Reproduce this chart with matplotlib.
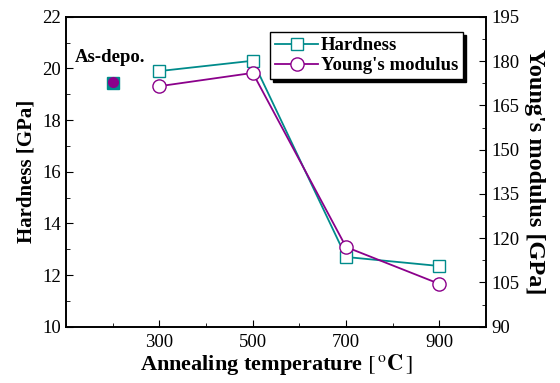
import matplotlib.pyplot as plt
import numpy as np
from matplotlib.ticker import MultipleLocator

plt.rcParams['font.family'] = 'Liberation Serif'
plt.rcParams['mathtext.fontset'] = 'stix'

# data
temp = [300, 500, 700, 900]
hardness = [19.9, 20.3, 12.7, 12.35]
modulus = [171.5, 176.0, 117.0, 104.5]
asdepo_temp = 200
asdepo_hard = 19.45
asdepo_mod = 173.0

teal = '#008b8b'
purple = '#8b008b'

fig = plt.figure(figsize=(5.6, 3.83), dpi=100)
ax = fig.add_axes([0.118, 0.147, 0.750, 0.809])
ax2 = ax.twinx()

l1, = ax.plot(temp, hardness, color=teal, marker='s', markersize=8,
              markerfacecolor='white', markeredgewidth=1.0, linewidth=1.3,
              label='Hardness')
ax.plot([asdepo_temp], [asdepo_hard], 's', color=teal, markersize=8)
l2, = ax2.plot(temp, modulus, color=purple, marker='o', markersize=9.5,
               markerfacecolor='white', markeredgewidth=1.0, linewidth=1.3,
               label="Young's modulus")
ax2.plot([asdepo_temp], [asdepo_mod], 'o', color=purple, markersize=7)

ax.set_xlim(100, 1000)
ax.set_ylim(10, 22)
ax2.set_ylim(90, 195)

ax.set_xticks([300, 500, 700, 900])
ax.xaxis.set_minor_locator(MultipleLocator(100))
ax.yaxis.set_major_locator(MultipleLocator(2))
ax.yaxis.set_minor_locator(MultipleLocator(1))
ax2.yaxis.set_major_locator(MultipleLocator(15))
ax2.yaxis.set_minor_locator(MultipleLocator(7.5))

for a in (ax, ax2):
    a.tick_params(which='both', direction='in', labelsize=13.5)
    a.tick_params(which='major', length=5)
    a.tick_params(which='minor', length=3)
    for s in a.spines.values():
        s.set_linewidth(1.2)
ax.tick_params(axis='x', which='both', top=False, pad=5)

ax.set_xlabel(r'Annealing temperature $\left[\,^{\mathrm{o}}\mathbf{C}\,\right]$',
              fontsize=16, fontweight='bold', labelpad=1)
ax.set_ylabel('Hardness [GPa]', fontsize=15, fontweight='bold', labelpad=4)
ax2.set_ylabel("Young's modulus [GPa]", fontsize=17.5, fontweight='bold',
               rotation=270, labelpad=19)

ax.text(0.02, 0.855, 'As-depo.', transform=ax.transAxes, fontsize=13.5,
        fontweight='bold')

leg = ax.legend([l1, l2], ['Hardness', "Young's modulus"],
                loc='upper right', bbox_to_anchor=(0.945, 0.95),
                borderaxespad=0,
                prop={'weight': 'bold', 'size': 13.5}, frameon=True,
                fancybox=False, shadow={'color': 'black', 'alpha': 1},
                borderpad=0.25, handlelength=2.3, handletextpad=0.15,
                labelspacing=0.15)
leg.get_frame().set_edgecolor('black')
leg.get_frame().set_linewidth(1.0)

fig.savefig('out.png', dpi=100)
